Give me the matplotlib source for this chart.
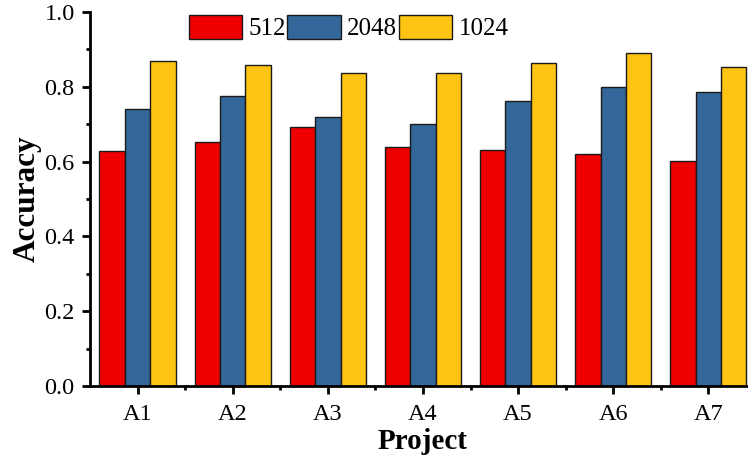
import numpy as np
import matplotlib
matplotlib.use('Agg')
import matplotlib.pyplot as plt
from matplotlib.ticker import MultipleLocator, FixedLocator

plt.rcParams['font.family'] = ['Liberation Serif', 'DejaVu Serif']

# Data
projects = ['A1', 'A2', 'A3', 'A4', 'A5', 'A6', 'A7']
acc_512 = [0.628, 0.653, 0.693, 0.639, 0.632, 0.620, 0.602]
acc_2048 = [0.741, 0.775, 0.718, 0.700, 0.761, 0.799, 0.787]
acc_1024 = [0.868, 0.858, 0.836, 0.836, 0.863, 0.891, 0.852]

series = [('512', acc_512, '#EE0000'),
          ('2048', acc_2048, '#336699'),
          ('1024', acc_1024, '#FEC413')]

fig = plt.figure(figsize=(7.48, 4.58), dpi=100)
ax = fig.add_axes([0.1203, 0.1572, 0.8904, 0.8166])

x = np.arange(1, len(projects) + 1)
w = 0.8 / 3
for i, (name, vals, col) in enumerate(series):
    ax.bar(x + (i - 1) * w, vals, width=w, color=col, edgecolor='#1a1a1a',
           linewidth=1.0, label=name)

ax.set_xlim(0.5, 7.5)
ax.set_ylim(0, 1.0)
ax.set_xticks(x)
ax.set_xticklabels(projects)
ax.xaxis.set_minor_locator(FixedLocator(x[:-1] + 0.5))
ax.yaxis.set_major_locator(MultipleLocator(0.2))
ax.yaxis.set_minor_locator(MultipleLocator(0.1))
ax.yaxis.set_major_formatter(plt.FormatStrFormatter('%.1f'))

for s in ['top', 'right']:
    ax.spines[s].set_visible(False)
for s in ['left', 'bottom']:
    ax.spines[s].set_linewidth(2.0)

ax.tick_params(axis='both', which='major', direction='out', length=6, width=2,
               labelsize=17.5)
ax.tick_params(axis='both', which='minor', direction='out', length=3, width=2)
ax.tick_params(axis='x', which='major', pad=7)
ax.tick_params(axis='y', which='major', pad=5)

ax.set_xlabel('Project', fontsize=21, fontweight='bold', labelpad=2)
ax.set_ylabel('Accuracy', fontsize=22.5, fontweight='bold', labelpad=2)

ax.legend(loc='upper left', bbox_to_anchor=(0.148, 0.992), ncol=3, frameon=False,
          fontsize=18, handlelength=2.15, handleheight=1.1, handletextpad=0.25,
          columnspacing=0.05, borderpad=0, borderaxespad=0)

fig.savefig('out.png', dpi=100)
